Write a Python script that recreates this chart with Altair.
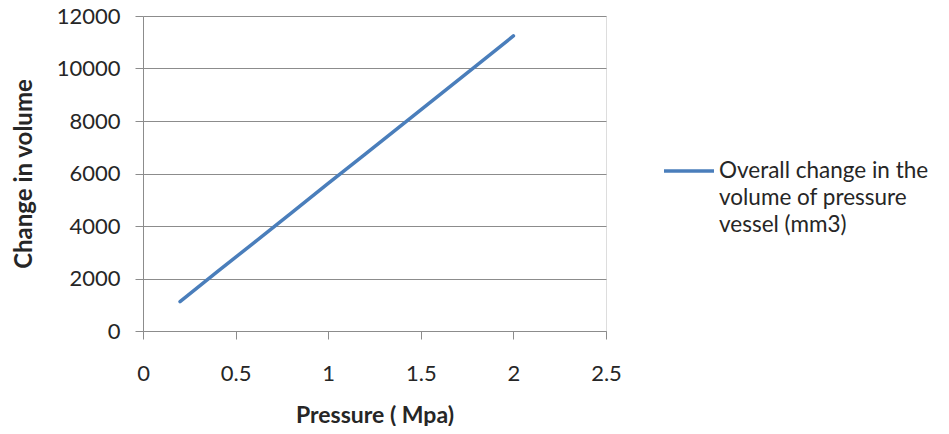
import altair as alt
import pandas as pd

pressure = [0.2, 0.4, 0.6, 0.8, 1.0, 1.2, 1.4, 1.6, 1.8, 2.0]
volume_change = [1120, 2250, 3370, 4490, 5620, 6740, 7860, 8990, 10110, 11240]
series_lines = ["Overall change in the", "volume of pressure", "vessel (mm3)"]
series_name = "|".join(series_lines)
x_ticks = [0, 0.5, 1, 1.5, 2, 2.5]
y_ticks = [0, 2000, 4000, 6000, 8000, 10000, 12000]

df = pd.DataFrame({"p": pressure, "v": volume_change, "s": [series_name] * len(pressure)})

font = "Lato"
txt = "#262626"
grid = "#8c8c8c"

chart = alt.Chart(df).mark_line(strokeWidth=3.5, strokeCap="round").encode(
    x=alt.X("p:Q", title="Pressure ( Mpa)",
            scale=alt.Scale(domain=[0, 2.5], nice=False, zero=True),
            axis=alt.Axis(values=x_ticks, format="~g", grid=False, tickSize=8,
                          tickColor=grid, domainColor=grid, labelPadding=24,
                          labelFontSize=22, labelFont=font, labelColor=txt,
                          titleFont=font, titleFontSize=23, titleFontWeight="bold",
                          titleColor=txt, titlePadding=20, labelFlush=False)),
    y=alt.Y("v:Q", title="Change in volume",
            scale=alt.Scale(domain=[0, 12000], nice=False),
            axis=alt.Axis(values=y_ticks, format="d", grid=True, gridColor=grid,
                          tickSize=8, tickColor=grid, domainColor=grid,
                          labelPadding=15, labelFontSize=22, labelFont=font,
                          labelColor=txt, titleFont=font, titleFontSize=24,
                          titleFontWeight="bold", titleColor=txt, titlePadding=20)),
    color=alt.Color("s:N", scale=alt.Scale(range=["#4A7EBB"]),
                    legend=alt.Legend(title=None, orient="none", legendX=519, legendY=128,
                                      symbolType="stroke", symbolSize=2500,
                                      symbolStrokeWidth=3.5, labelFont=font,
                                      labelFontSize=22.5, labelColor=txt, labelOffset=3,
                                      labelLimit=400,
                                      labelExpr="split(datum.label, '|')")),
).properties(
    width=463, height=315,
    autosize=alt.AutoSizeParams(type="none"),
    padding={"left": 135, "top": 8, "right": 335, "bottom": 95},
).configure_view(stroke=None).configure(style={"guide-label": {"lineHeight": 27}})

chart.save("out.html", embed_options={"renderer": "svg", "actions": False})
